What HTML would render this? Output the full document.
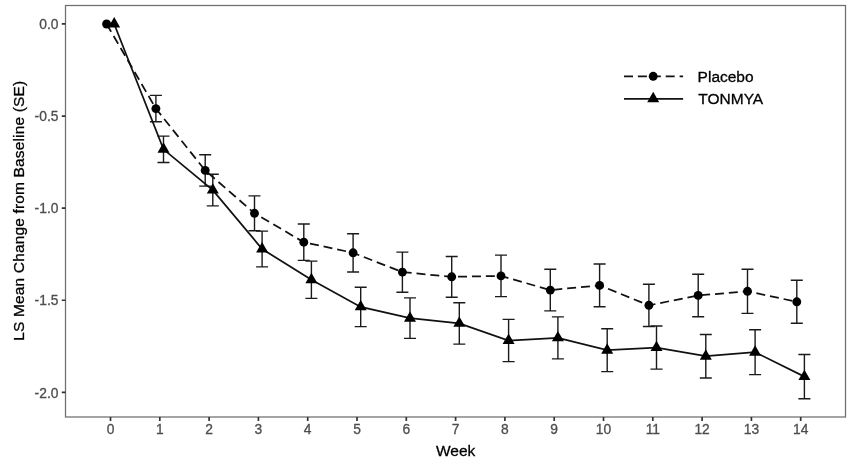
<!DOCTYPE html>
<html lang="en"><head><meta charset="utf-8"><title>LS Mean Change from Baseline</title>
<style>html,body{margin:0;padding:0;background:#fff}body{width:850px;height:464px;overflow:hidden}</style></head>
<body>
<svg width="850" height="464" viewBox="0 0 850 464" style="display:block">
<rect width="850" height="464" fill="#fff"/>
<path d="M149.90 95.40H161.90M149.90 121.80H161.90M155.90 95.40V121.80" stroke="#1a1a1a" stroke-width="1.4" fill="none"/>
<path d="M199.20 154.70H211.20M199.20 186.10H211.20M205.20 154.70V186.10" stroke="#1a1a1a" stroke-width="1.4" fill="none"/>
<path d="M248.50 195.90H260.50M248.50 230.70H260.50M254.50 195.90V230.70" stroke="#1a1a1a" stroke-width="1.4" fill="none"/>
<path d="M297.80 224.00H309.80M297.80 260.40H309.80M303.80 224.00V260.40" stroke="#1a1a1a" stroke-width="1.4" fill="none"/>
<path d="M347.10 233.70H359.10M347.10 272.00H359.10M353.10 233.70V272.00" stroke="#1a1a1a" stroke-width="1.4" fill="none"/>
<path d="M396.40 252.10H408.40M396.40 292.20H408.40M402.40 252.10V292.20" stroke="#1a1a1a" stroke-width="1.4" fill="none"/>
<path d="M445.70 256.50H457.70M445.70 297.20H457.70M451.70 256.50V297.20" stroke="#1a1a1a" stroke-width="1.4" fill="none"/>
<path d="M495.00 255.10H507.00M495.00 296.60H507.00M501.00 255.10V296.60" stroke="#1a1a1a" stroke-width="1.4" fill="none"/>
<path d="M544.30 269.30H556.30M544.30 310.90H556.30M550.30 269.30V310.90" stroke="#1a1a1a" stroke-width="1.4" fill="none"/>
<path d="M593.60 264.00H605.60M593.60 306.70H605.60M599.60 264.00V306.70" stroke="#1a1a1a" stroke-width="1.4" fill="none"/>
<path d="M642.90 284.20H654.90M642.90 326.50H654.90M648.90 284.20V326.50" stroke="#1a1a1a" stroke-width="1.4" fill="none"/>
<path d="M692.20 274.20H704.20M692.20 316.70H704.20M698.20 274.20V316.70" stroke="#1a1a1a" stroke-width="1.4" fill="none"/>
<path d="M741.50 269.20H753.50M741.50 313.40H753.50M747.50 269.20V313.40" stroke="#1a1a1a" stroke-width="1.4" fill="none"/>
<path d="M790.80 280.20H802.80M790.80 323.30H802.80M796.80 280.20V323.30" stroke="#1a1a1a" stroke-width="1.4" fill="none"/>
<path d="M157.50 136.10H169.50M157.50 162.50H169.50M163.50 136.10V162.50" stroke="#1a1a1a" stroke-width="1.4" fill="none"/>
<path d="M206.80 174.30H218.80M206.80 205.90H218.80M212.80 174.30V205.90" stroke="#1a1a1a" stroke-width="1.4" fill="none"/>
<path d="M256.10 231.10H268.10M256.10 266.90H268.10M262.10 231.10V266.90" stroke="#1a1a1a" stroke-width="1.4" fill="none"/>
<path d="M305.40 261.10H317.40M305.40 298.40H317.40M311.40 261.10V298.40" stroke="#1a1a1a" stroke-width="1.4" fill="none"/>
<path d="M354.70 287.20H366.70M354.70 326.60H366.70M360.70 287.20V326.60" stroke="#1a1a1a" stroke-width="1.4" fill="none"/>
<path d="M404.00 297.90H416.00M404.00 338.40H416.00M410.00 297.90V338.40" stroke="#1a1a1a" stroke-width="1.4" fill="none"/>
<path d="M453.30 302.70H465.30M453.30 344.10H465.30M459.30 302.70V344.10" stroke="#1a1a1a" stroke-width="1.4" fill="none"/>
<path d="M502.60 319.40H514.60M502.60 361.60H514.60M508.60 319.40V361.60" stroke="#1a1a1a" stroke-width="1.4" fill="none"/>
<path d="M551.90 316.90H563.90M551.90 358.90H563.90M557.90 316.90V358.90" stroke="#1a1a1a" stroke-width="1.4" fill="none"/>
<path d="M601.20 328.80H613.20M601.20 371.60H613.20M607.20 328.80V371.60" stroke="#1a1a1a" stroke-width="1.4" fill="none"/>
<path d="M650.50 326.00H662.50M650.50 369.10H662.50M656.50 326.00V369.10" stroke="#1a1a1a" stroke-width="1.4" fill="none"/>
<path d="M699.80 334.50H711.80M699.80 378.00H711.80M705.80 334.50V378.00" stroke="#1a1a1a" stroke-width="1.4" fill="none"/>
<path d="M749.10 329.80H761.10M749.10 374.60H761.10M755.10 329.80V374.60" stroke="#1a1a1a" stroke-width="1.4" fill="none"/>
<path d="M798.40 354.50H810.40M798.40 398.70H810.40M804.40 354.50V398.70" stroke="#1a1a1a" stroke-width="1.4" fill="none"/>
<polyline fill="none" stroke="#111" stroke-width="1.75" stroke-dasharray="9.0 4.9" stroke-dashoffset="0" points="106.60,24.00 155.90,108.60 205.20,170.40 254.50,213.30 303.80,242.20 353.10,252.80 402.40,272.10 451.70,276.80 501.00,275.90 550.30,290.10 599.60,285.40 648.90,305.30 698.20,295.40 747.50,291.30 796.80,301.80"/>
<polyline fill="none" stroke="#111" stroke-width="1.75" points="114.20,24.00 163.50,149.30 212.80,190.10 262.10,249.00 311.40,279.80 360.70,306.90 410.00,318.20 459.30,323.40 508.60,340.50 557.90,337.90 607.20,350.20 656.50,347.60 705.80,356.20 755.10,352.20 804.40,376.60"/>
<circle cx="106.60" cy="24.00" r="4.45" fill="#000"/>
<circle cx="155.90" cy="108.60" r="4.45" fill="#000"/>
<circle cx="205.20" cy="170.40" r="4.45" fill="#000"/>
<circle cx="254.50" cy="213.30" r="4.45" fill="#000"/>
<circle cx="303.80" cy="242.20" r="4.45" fill="#000"/>
<circle cx="353.10" cy="252.80" r="4.45" fill="#000"/>
<circle cx="402.40" cy="272.10" r="4.45" fill="#000"/>
<circle cx="451.70" cy="276.80" r="4.45" fill="#000"/>
<circle cx="501.00" cy="275.90" r="4.45" fill="#000"/>
<circle cx="550.30" cy="290.10" r="4.45" fill="#000"/>
<circle cx="599.60" cy="285.40" r="4.45" fill="#000"/>
<circle cx="648.90" cy="305.30" r="4.45" fill="#000"/>
<circle cx="698.20" cy="295.40" r="4.45" fill="#000"/>
<circle cx="747.50" cy="291.30" r="4.45" fill="#000"/>
<circle cx="796.80" cy="301.80" r="4.45" fill="#000"/>
<polygon points="114.20,17.05 120.20,27.47 108.20,27.47" fill="#000"/>
<polygon points="163.50,142.35 169.50,152.77 157.50,152.77" fill="#000"/>
<polygon points="212.80,183.15 218.80,193.57 206.80,193.57" fill="#000"/>
<polygon points="262.10,242.05 268.10,252.47 256.10,252.47" fill="#000"/>
<polygon points="311.40,272.85 317.40,283.27 305.40,283.27" fill="#000"/>
<polygon points="360.70,299.95 366.70,310.37 354.70,310.37" fill="#000"/>
<polygon points="410.00,311.25 416.00,321.67 404.00,321.67" fill="#000"/>
<polygon points="459.30,316.45 465.30,326.87 453.30,326.87" fill="#000"/>
<polygon points="508.60,333.55 514.60,343.97 502.60,343.97" fill="#000"/>
<polygon points="557.90,330.95 563.90,341.37 551.90,341.37" fill="#000"/>
<polygon points="607.20,343.25 613.20,353.67 601.20,353.67" fill="#000"/>
<polygon points="656.50,340.65 662.50,351.07 650.50,351.07" fill="#000"/>
<polygon points="705.80,349.25 711.80,359.67 699.80,359.67" fill="#000"/>
<polygon points="755.10,345.25 761.10,355.67 749.10,355.67" fill="#000"/>
<polygon points="804.40,369.65 810.40,380.07 798.40,380.07" fill="#000"/>
<rect x="65.5" y="5.5" width="780.0" height="411.5" fill="none" stroke="#6e6e6e" stroke-width="1.25"/>
<path d="M110.50 417.0V420.9M159.80 417.0V420.9M209.10 417.0V420.9M258.40 417.0V420.9M307.70 417.0V420.9M357.00 417.0V420.9M406.30 417.0V420.9M455.60 417.0V420.9M504.90 417.0V420.9M554.20 417.0V420.9M603.50 417.0V420.9M652.80 417.0V420.9M702.10 417.0V420.9M751.40 417.0V420.9M800.70 417.0V420.9M61.8 23.90H65.5M61.8 116.03H65.5M61.8 208.15H65.5M61.8 300.27H65.5M61.8 392.40H65.5" stroke="#333" stroke-width="1.7" fill="none"/>
<g font-family="'Liberation Sans', Arial, sans-serif" font-size="13.8" fill="#4d4d4d" stroke="#4d4d4d" stroke-width="0.3">
<text x="110.50" y="434.3" text-anchor="middle">0</text>
<text x="159.80" y="434.3" text-anchor="middle">1</text>
<text x="209.10" y="434.3" text-anchor="middle">2</text>
<text x="258.40" y="434.3" text-anchor="middle">3</text>
<text x="307.70" y="434.3" text-anchor="middle">4</text>
<text x="357.00" y="434.3" text-anchor="middle">5</text>
<text x="406.30" y="434.3" text-anchor="middle">6</text>
<text x="455.60" y="434.3" text-anchor="middle">7</text>
<text x="504.90" y="434.3" text-anchor="middle">8</text>
<text x="554.20" y="434.3" text-anchor="middle">9</text>
<text x="603.50" y="434.3" text-anchor="middle">10</text>
<text x="652.80" y="434.3" text-anchor="middle">11</text>
<text x="702.10" y="434.3" text-anchor="middle">12</text>
<text x="751.40" y="434.3" text-anchor="middle">13</text>
<text x="800.70" y="434.3" text-anchor="middle">14</text>
<text x="58.4" y="29.10" text-anchor="end">0.0</text>
<text x="58.4" y="121.23" text-anchor="end">-0.5</text>
<text x="58.4" y="213.35" text-anchor="end">-1.0</text>
<text x="58.4" y="305.47" text-anchor="end">-1.5</text>
<text x="58.4" y="397.60" text-anchor="end">-2.0</text>
</g>
<g font-family="'Liberation Sans', Arial, sans-serif" font-size="15.5" fill="#000" stroke="#000" stroke-width="0.3">
<text x="455.6" y="456.1" text-anchor="middle">Week</text>
<text transform="translate(24.3 210.8) rotate(-90)" text-anchor="middle" textLength="260" lengthAdjust="spacing">LS Mean Change from Baseline (SE)</text>
<text x="697.6" y="81.8">Placebo</text>
<text x="698.3" y="104.3">TONMYA</text>
</g>
<path d="M624.0 76.3H683.1" stroke="#111" stroke-width="1.75" stroke-dasharray="9.0 4.9" fill="none"/>
<path d="M624.0 98.8H683.1" stroke="#111" stroke-width="1.75" fill="none"/>
<circle cx="653.2" cy="76.3" r="4.45" fill="#000"/>
<polygon points="653.20,91.85 659.20,102.27 647.20,102.27" fill="#000"/>
</svg>
</body></html>
